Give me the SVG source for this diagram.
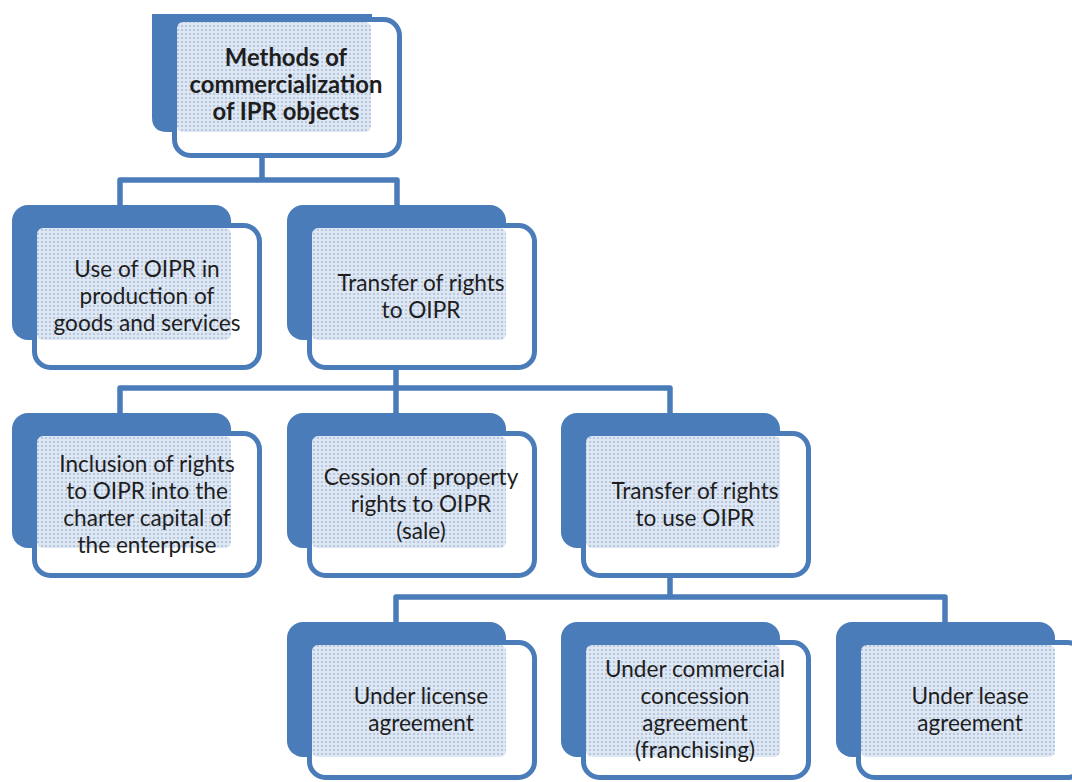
<svg xmlns="http://www.w3.org/2000/svg" width="1072" height="782" viewBox="0 0 1072 782">
<defs>
<pattern id="dots" width="4" height="4" patternUnits="userSpaceOnUse">
<rect width="4" height="4" fill="#dfe7f3"/>
<circle cx="2" cy="2" r="1.1" fill="#aac1df"/>
</pattern>
<style>
.back{fill:#4a7cba}
.front{fill:#ffffff;stroke:#4a7cba;stroke-width:5}
.pat{fill:url(#dots)}
.conn{fill:none;stroke:#4a7cba;stroke-width:5.5;stroke-linejoin:round}
text{font-family:Lato,"Liberation Sans",sans-serif;font-size:22.6px;fill:#1e1e1e;text-anchor:middle}
.bold{font-weight:bold;font-size:23.8px}
</style>
</defs>
<rect width="1072" height="782" fill="#ffffff"/>
<g id="connectors">
<path class="conn" d="M262,158 V180 M120,205 V180 H397 V205"/>
<path class="conn" d="M396,370 V388 M120,413 V388 H670 V413 M396,388 V413"/>
<path class="conn" d="M670,578 V597 M396,622 V597 H945 V622"/>
</g>
<g id="n1">
<path class="back" d="M152,14 H372 V117 Q372,132 357,132 H167 Q152,132 152,117 Z"/>
<rect class="front" x="174.5" y="19.5" width="225" height="136" rx="16"/>
<rect class="pat" x="177" y="22" width="194" height="110" rx="6"/>
<text class="bold" x="286" y="66">Methods of</text>
<text class="bold" x="286" y="93">commercialization</text>
<text class="bold" x="286" y="120">of IPR objects</text>
</g>
<g id="n2a">
<rect class="back" x="12" y="205" width="219" height="135" rx="16"/>
<rect class="front" x="34.5" y="225.5" width="225" height="142" rx="16"/>
<rect class="pat" x="37" y="228" width="194" height="112" rx="6"/>
<text x="147" y="277">Use of OIPR in</text>
<text x="147" y="304">production of</text>
<text x="147" y="331">goods and services</text>
</g>
<g id="n2b">
<rect class="back" x="287" y="205" width="219" height="135" rx="16"/>
<rect class="front" x="309.5" y="225.5" width="225" height="142" rx="16"/>
<rect class="pat" x="312" y="228" width="194" height="112" rx="6"/>
<text x="421" y="290.5">Transfer of rights</text>
<text x="421" y="317.5">to OIPR</text>
</g>
<g id="n3a">
<rect class="back" x="12" y="413" width="219" height="135" rx="16"/>
<rect class="front" x="34.5" y="433.5" width="225" height="142" rx="16"/>
<rect class="pat" x="37" y="436" width="194" height="112" rx="6"/>
<text x="147" y="471.5">Inclusion of rights</text>
<text x="147" y="498.5">to OIPR into the</text>
<text x="147" y="525.5">charter capital of</text>
<text x="147" y="552.5">the enterprise</text>
</g>
<g id="n3b">
<rect class="back" x="287" y="413" width="219" height="135" rx="16"/>
<rect class="front" x="309.5" y="433.5" width="225" height="142" rx="16"/>
<rect class="pat" x="312" y="436" width="194" height="112" rx="6"/>
<text x="421" y="485">Cession of property</text>
<text x="421" y="512">rights to OIPR</text>
<text x="421" y="539">(sale)</text>
</g>
<g id="n3c">
<rect class="back" x="561" y="413" width="219" height="135" rx="16"/>
<rect class="front" x="583.5" y="433.5" width="225" height="142" rx="16"/>
<rect class="pat" x="586" y="436" width="194" height="112" rx="6"/>
<text x="695" y="498.5">Transfer of rights</text>
<text x="695" y="525.5">to use OIPR</text>
</g>
<g id="n4a">
<rect class="back" x="287" y="622" width="219" height="135" rx="16"/>
<rect class="front" x="309.5" y="642.5" width="225" height="135" rx="16"/>
<rect class="pat" x="312" y="645" width="194" height="112" rx="6"/>
<text x="421" y="704">Under license</text>
<text x="421" y="731">agreement</text>
</g>
<g id="n4b">
<rect class="back" x="561" y="622" width="219" height="135" rx="16"/>
<rect class="front" x="583.5" y="642.5" width="225" height="135" rx="16"/>
<rect class="pat" x="586" y="645" width="194" height="112" rx="6"/>
<text x="695" y="677">Under commercial</text>
<text x="695" y="704">concession</text>
<text x="695" y="731">agreement</text>
<text x="695" y="758">(franchising)</text>
</g>
<g id="n4c">
<rect class="back" x="836" y="622" width="219" height="135" rx="16"/>
<rect class="front" x="858.5" y="642.5" width="225" height="135" rx="16"/>
<rect class="pat" x="861" y="645" width="194" height="112" rx="6"/>
<text x="970" y="704">Under lease</text>
<text x="970" y="731">agreement</text>
</g>
</svg>
